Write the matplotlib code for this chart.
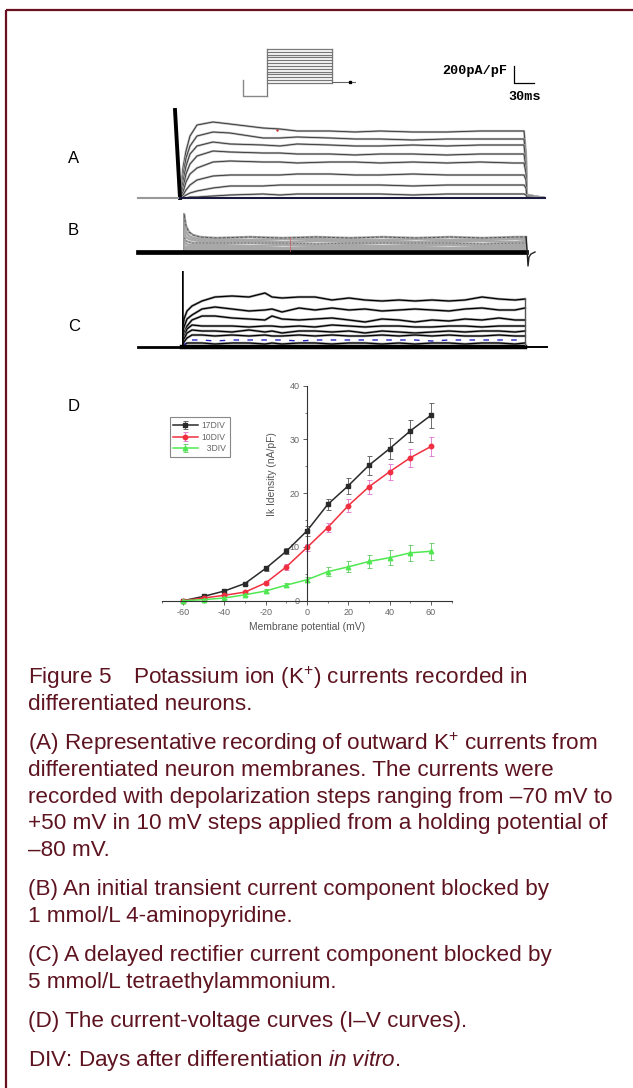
import matplotlib
matplotlib.use("Agg")
import matplotlib.pyplot as plt
from matplotlib.patches import Rectangle

W = 633
H = 1088
RED = "#6b1020"
TXT = "#5e1420"

plt.rcParams["font.family"] = ["Liberation Sans", "DejaVu Sans"]
plt.rcParams["mathtext.fontset"] = "custom"
plt.rcParams["mathtext.rm"] = "Liberation Sans"
plt.rcParams["mathtext.it"] = "Liberation Sans:italic"
plt.rcParams["axes.unicode_minus"] = False

# panel D values
volt = [-60, -50, -40, -30, -20, -10, 0, 10, 20, 30, 40, 50, 60]
div17 = [0.0, 0.8, 1.8, 3.2, 6.0, 9.2, 13.0, 17.9, 21.4, 25.2, 28.3, 31.6, 34.5]
div17_err = [0.1, 0.2, 0.3, 0.3, 0.4, 0.6, 0.9, 1.1, 1.5, 1.8, 1.9, 2.1, 2.3]
div10 = [0.0, 0.5, 1.0, 1.6, 3.3, 6.3, 9.9, 13.6, 17.7, 21.2, 24.0, 26.6, 28.7]
div10_err = [0.1, 0.1, 0.2, 0.2, 0.3, 0.5, 0.7, 0.9, 1.2, 1.3, 1.5, 1.7, 1.8]
div3 = [0.0, 0.2, 0.5, 1.1, 1.8, 2.9, 3.9, 5.4, 6.3, 7.3, 8.0, 8.9, 9.2]
div3_err = [0.1, 0.1, 0.1, 0.2, 0.3, 0.4, 0.5, 0.8, 1.0, 1.2, 1.4, 1.5, 1.6]

# panel A traces
a_t = [0, 3, 6, 10, 17, 33, 50, 83, 100, 117, 150, 175, 200, 233, 267, 300, 333, 344, 346, 347, 365]
a_traces = [
    [0, 30, 47, 62, 73, 76, 74, 70, 69, 67, 67, 66, 67, 66, 66, 67, 67, 67, 45, 3, 0],
    [0, 22, 40, 52, 62, 66, 65, 60, 60, 61, 60, 59, 59, 58, 59, 59, 59, 59, 40, 3, 0],
    [0, 16, 32, 44, 52, 56, 54, 53, 52, 54, 53, 52, 52, 53, 52, 53, 53, 53, 35, 3, 0],
    [0, 10, 24, 34, 42, 47, 46, 45, 45, 44, 44, 43, 44, 44, 43, 44, 44, 44, 30, 3, 0],
    [0, 6, 16, 24, 30, 36, 37, 36, 36, 35, 36, 36, 35, 36, 35, 36, 35, 35, 25, 3, 0],
    [0, 3, 8, 13, 18, 22, 23, 23, 23, 24, 24, 23, 23, 24, 23, 23, 23, 23, 18, 2, 0],
    [0, 1, 3, 5, 7, 10, 12, 12, 13, 13, 13, 13, 13, 12, 13, 13, 13, 13, 10, 1, 0],
    [0, 0, 0, 1, 1, 2, 3, 4, 3, 4, 4, 4, 4, 3, 4, 4, 4, 4, 3, 1, 0],
]
# panel B traces
b_t = [0, 1, 3, 6, 10, 17, 33, 67, 100, 133, 167, 200, 233, 267, 300, 333, 343]
b_traces = [
    [0, 38, 26, 20, 17, 15, 14, 15, 14, 15, 14, 15, 14, 15, 14, 15, 15],
    [0, 28, 20, 16, 14, 13, 13, 12, 13, 13, 12, 12, 13, 12, 13, 13, 13],
    [0, 20, 15, 13, 12, 11, 11, 11, 10, 11, 11, 11, 10, 11, 11, 10, 11],
    [0, 14, 11, 10, 9, 9, 9, 9, 9, 8, 9, 9, 9, 9, 8, 9, 9],
    [0, 10, 8, 7, 7, 7, 7, 6, 7, 7, 7, 6, 7, 7, 7, 7, 7],
    [0, 6, 5, 5, 5, 5, 5, 5, 4, 5, 5, 5, 5, 4, 5, 5, 5],
    [0, 3, 3, 3, 3, 3, 3, 3, 3, 3, 3, 3, 3, 3, 3, 3, 3],
]
b_off_t = [343, 344, 345, 346, 348, 352]
b_off = [15, 3, -14, -5, -2, 0]
# panel C traces
c_t = [0, 2, 5, 10, 20, 33, 50, 67, 83, 90, 100, 117, 133, 150, 167, 183, 200, 217, 233, 250, 267, 283, 300, 317, 333, 343]
c_traces = [
    [0, 28, 36, 41, 46, 50, 51, 50, 54, 50, 49, 50, 50, 47, 49, 47, 46, 47, 46, 47, 46, 47, 50, 48, 47, 48],
    [0, 20, 28, 32, 38, 40, 38, 36, 37, 38, 35, 39, 37, 39, 37, 38, 36, 37, 38, 37, 36, 38, 39, 37, 37, 39],
    [0, 14, 21, 27, 31, 31, 29, 28, 27, 31, 28, 27, 28, 29, 27, 25, 28, 27, 25, 27, 26, 28, 27, 29, 27, 27],
    [0, 10, 18, 22, 21, 21, 21, 20, 21, 21, 20, 21, 20, 22, 21, 20, 21, 21, 20, 20, 21, 21, 20, 21, 21, 21],
    [0, 8, 14, 17, 16, 16, 15, 17, 15, 16, 14, 16, 16, 15, 16, 14, 16, 15, 14, 15, 16, 15, 16, 16, 15, 16],
    [0, 5, 9, 12, 12, 11, 12, 11, 12, 11, 11, 12, 11, 12, 11, 11, 12, 11, 12, 11, 12, 11, 11, 12, 11, 11],
    [0, 2, 4, 4, 4, 3, 4, 4, 3, 4, 3, 4, 4, 3, 4, 4, 3, 4, 3, 4, 4, 3, 4, 4, 3, 4],
]
c_blue = [0, 1, 7, 7, 7, 6, 7, 7, 7, 7, 7, 6, 7, 7, 7, 7, 7, 7, 7, 6, 7, 7, 7, 7, 7, 7]
# protocol step levels in mV
step_levels = [-70, -60, -50, -40, -30, -20, -10, 0, 10, 20, 30, 40, 50]
hold_level = -116
tail_level = -65
prot_time = [0, 24, 89, 113]

# caption lines: text, baseline y
caption = [
    ("Figure 5\u2003Potassium ion (K$^{+}$) currents recorded in", 684),
    ("differentiated neurons.", 710.5),
    ("(A) Representative recording of outward K$^{+}$ currents from", 750),
    ("differentiated neuron membranes. The currents were", 776.5),
    ("recorded with depolarization steps ranging from \u201370 mV to", 803),
    ("+50 mV in 10 mV steps applied from a holding potential of", 829.5),
    ("\u201380 mV.", 856),
    ("(B) An initial transient current component blocked by", 895.5),
    ("1 mmol/L 4-aminopyridine.", 922),
    ("(C) A delayed rectifier current component blocked by", 961.5),
    ("5 mmol/L tetraethylammonium.", 988),
    ("(D) The current-voltage curves (I\u2013V curves).", 1027),
    ("DIV: Days after differentiation $\\mathit{in\\ vitro}$.", 1066),
]
panel_labels = [("A", 68, 163), ("B", 68, 235), ("C", 68, 331), ("D", 68, 411)]


def px_axes(fig, left, top, right, bottom):
    ax = fig.add_axes([left / W, 1 - bottom / H, (right - left) / W, (bottom - top) / H])
    ax.patch.set_alpha(0)
    return ax


fig = plt.figure(figsize=(W / 100, H / 100), dpi=100)
page = px_axes(fig, 0, 0, W, H)
page.set_xlim(0, W)
page.set_ylim(H, 0)
page.axis("off")
page.add_patch(Rectangle((6, 10), 1000, 2000, fill=False, ec=RED, lw=1.6))

for txt, y in caption:
    page.text(28, y, txt, fontsize=16.2, color=TXT, va="baseline")
for lab, x, y in panel_labels:
    page.text(x, y, lab, fontsize=12, color="black", va="baseline")

page.text(442, 74, "200pA/pF", fontsize=9.7, family="Liberation Mono", weight="bold", va="baseline")
page.text(508, 100, "30ms", fontsize=9.7, family="Liberation Mono", weight="bold", va="baseline")
page.plot([514, 514, 534], [66, 83, 83], color="black", lw=0.9)

# protocol
prot = px_axes(fig, 243, 49, 356, 96)
prot.set_xlim(prot_time[0], prot_time[-1])
prot.set_ylim(hold_level, 50)
prot.axis("off")
for lv in step_levels:
    prot.plot(prot_time[1:3], [lv, lv], color="#777777", lw=0.9, clip_on=False)
prot.plot([prot_time[1]] * 2, [hold_level, 50], color="#777777", lw=0.9, clip_on=False)
prot.plot([prot_time[2]] * 2, [tail_level, 50], color="#777777", lw=0.9, clip_on=False)
prot.plot([prot_time[0], prot_time[0], prot_time[1]], [-59, hold_level, hold_level], color="#888888", lw=1, clip_on=False)
prot.plot(prot_time[2:], [tail_level, tail_level], color="#666666", lw=0.8)
prot.plot([107], [tail_level], "s", color="black", ms=2)

# panel A
ax_a = px_axes(fig, 180, 108, 545, 198)
ax_a.set_xlim(0, 365)
ax_a.set_ylim(0, 90)
ax_a.axis("off")
for tr in a_traces:
    ax_a.plot(a_t, tr, color="#b0b0b0", lw=1.6)
    ax_a.plot(a_t, tr, color="#333333", lw=0.6)
ax_a.plot([-5, 0], [88, 0], color="black", lw=2.8, clip_on=False)
ax_a.plot([-42, 0], [0, 0], color="#999999", lw=1.5, clip_on=False)
ax_a.plot([0, 365], [0, 0], color="#1a1a40", lw=1.5, clip_on=False)
ax_a.plot([97], [68], ".", color="#c03030", ms=1.5)

# panel B
ax_b = px_axes(fig, 183, 213, 535, 252)
ax_b.set_xlim(0, 352)
ax_b.set_ylim(0, 39)
ax_b.axis("off")
for tr in b_traces:
    ax_b.plot(b_t, tr, color="#a8a8a8", lw=1.8)
ax_b.plot(b_t, b_traces[0], color="#555555", lw=0.7, ls=(0, (3, 1.5)))
ax_b.plot(b_t, b_traces[3], color="#555555", lw=0.5, ls=(0, (2, 3)))
ax_b.plot([0, 0], [0, 39], color="#999999", lw=1.6)
ax_b.plot([-45, 343], [0, 0], color="black", lw=3.4, clip_on=False)
ax_b.plot(b_off_t, b_off, color="#222222", lw=1, clip_on=False)
ax_b.plot([107, 107], [0, 15], color="#d06060", lw=0.5)

# panel C
ax_c = px_axes(fig, 182, 271, 547, 347)
ax_c.set_xlim(0, 365)
ax_c.set_ylim(0, 76)
ax_c.axis("off")
for tr in c_traces:
    ax_c.plot(c_t, tr, color="#a0a0a0", lw=1.8)
    ax_c.plot(c_t, tr, color="black", lw=0.9)
ax_c.plot(c_t, c_blue, color="#2020c0", lw=1, ls=(0, (4, 6)))
ax_c.plot([0, 0], [0, 76], color="black", lw=1.8)
ax_c.plot([-44, 0], [0, 0], color="black", lw=2, clip_on=False)
ax_c.plot([0, 343], [0, 0], color="black", lw=3.2, clip_on=False)
ax_c.plot([343, 343], [48, 0], color="#555555", lw=1)
ax_c.plot([343, 365], [0, 0], color="black", lw=1.4, clip_on=False)

# panel D
ax = px_axes(fig, 162.3, 385.7, 451.7, 600.7)
ax.set_xlim(-70, 70)
ax.set_ylim(0, 40)
for s in ["top", "right"]:
    ax.spines[s].set_visible(False)
ax.spines["left"].set_position(("data", 0))
for s in ["left", "bottom"]:
    ax.spines[s].set_color("#333333")
    ax.spines[s].set_linewidth(0.8)
ax.set_xticks([-60, -40, -20, 0, 20, 40, 60])
ax.set_xticks([-70, -50, -30, -10, 10, 30, 50, 70], minor=True)
ax.set_yticks([0, 10, 20, 30, 40])
ax.set_yticks([5, 15, 25, 35], minor=True)
ax.tick_params(axis="both", which="major", labelsize=6.5, length=3, width=0.6, color="#444444", labelcolor="#666666", pad=2.5)
ax.tick_params(axis="both", which="minor", length=1.5, width=0.5, color="#444444")

series = [
    ("17DIV", div17, div17_err, "#2a2a2a", "#555555", "s"),
    ("10DIV", div10, div10_err, "#f03040", "#e070d0", "o"),
    ("  3DIV", div3, div3_err, "#50e850", "#60c860", "^"),
]
for name, y, err, col, ecol, mk in series:
    ax.errorbar(volt, y, yerr=err, color=col, ecolor=ecol, elinewidth=0.6, capsize=1.8, capthick=0.6,
                marker=mk, ms=3.2, lw=1.1, label=name, clip_on=False)
ax.set_xlabel("Membrane potential (mV)", fontsize=7.4, color="#555555", labelpad=3.5)
ax.text(-17, 23.6, "Ik Idensity (nA/pF)", rotation=90, fontsize=7.4, color="#555555", ha="center", va="center")
leg = ax.legend(loc="upper left", bbox_to_anchor=(0.025, 0.854), fontsize=6.2, frameon=True, fancybox=False,
                edgecolor="#888888", framealpha=1, labelcolor="#666666", handlelength=2.8, borderpad=0.45,
                labelspacing=0.3, handletextpad=0.5, borderaxespad=0)
leg.get_frame().set_linewidth(0.8)

fig.savefig("out.png", dpi=100)
